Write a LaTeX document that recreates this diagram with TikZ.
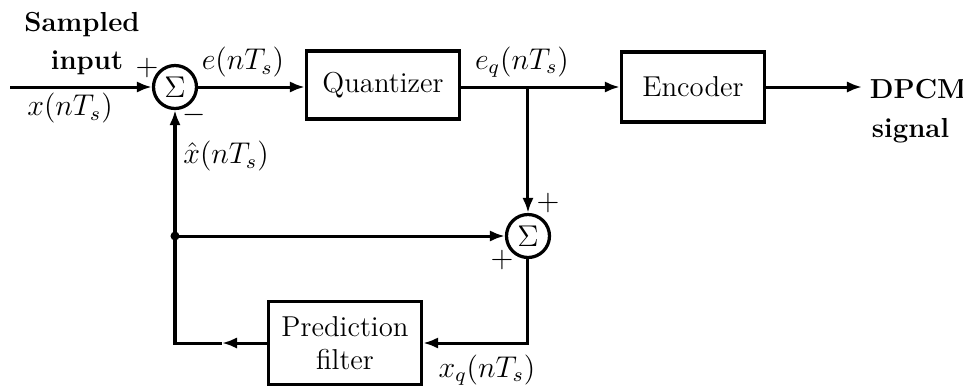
\documentclass[tikz,border=0pt]{standalone}
\usetikzlibrary{arrows.meta}
\begin{document}
\begin{tikzpicture}[x=0.4pt,y=-0.4pt,
  font=\fontsize{11.5}{13}\selectfont,
  line width=1.2pt,
  arr/.style={-{Latex[length=6pt,width=4.5pt]}},
  blockbox/.style={draw,line width=1.3pt,inner sep=2pt,align=center},
  sumnode/.style={draw,circle,line width=1.3pt,minimum size=17.2pt,inner sep=0pt,font=\fontsize{13}{14}\selectfont},
  lbl/.style={inner sep=0.5pt},
  bl/.style={inner sep=1pt,font=\fontsize{11}{13}\selectfont\bfseries}]
\useasboundingbox (0,0) rectangle (963,389);
% nodes
\coordinate (in) at (10,87);
\node[sumnode] (s1) at (175,87) {$\Sigma$};
\node[blockbox,minimum width=61.2pt,minimum height=27.2pt] (q) at (383,85) {Quantizer};
\coordinate (br) at (528,87);
\node[blockbox,minimum width=57.2pt,minimum height=28pt] (enc) at (693,87) {Encoder};
\coordinate (out) at (862,87);
\node[sumnode] (s2) at (528,236) {$\Sigma$};
\coordinate (jn) at (175,236);
\node[blockbox,minimum width=61.2pt,minimum height=33.2pt] (pf) at (345,343) {Prediction\\filter};
\coordinate (c2) at (s2.south |- pf.east);
\coordinate (fm) at (222,343);
\coordinate (c1) at (175,343);
% connectors
\draw[arr] (in) -- (s1.west);
\draw[arr] (s1.east) -- (s1.east -| q.west);
\draw[arr] (s1.east -| q.east) -- (enc.west);
\draw[arr] (enc.east) -- (out);
\draw[arr] (br) -- (s2.north);
\draw[arr] (jn) -- (s2.west);
\draw[arr] (s2.south) -- (c2) -- (pf.east);
\draw[arr] (pf.west) -- (fm);
\draw[arr] (fm) -- (c1) -- (s1.south);
\fill (jn) circle (1.8pt);
% labels
\node[bl] (t1) at (82,25) {Sampled};
\node[bl] (t2) at (87,63) {input};
\node[lbl] (t3) at (70,108) {$x(nT_s)$};
\node[lbl] (p1) at (147,68) {$+$};
\node[lbl] (m1) at (194,115) {$-$};
\node[lbl] (t6) at (226,156) {$\hat{x}(nT_s)$};
\node[lbl] (t4) at (243,62) {$e(nT_s)$};
\node[lbl] (t5) at (522,62) {$e_q(nT_s)$};
\node[lbl] (p2) at (548,203) {$+$};
\node[lbl] (p3) at (502,260) {$+$};
\node[lbl] (t7) at (487,370) {$x_q(nT_s)$};
\node[bl,anchor=west] (t8) at (866,89) {DPCM};
\node[bl,anchor=west] (t9) at (868,131) {signal};
\end{tikzpicture}
\end{document}
